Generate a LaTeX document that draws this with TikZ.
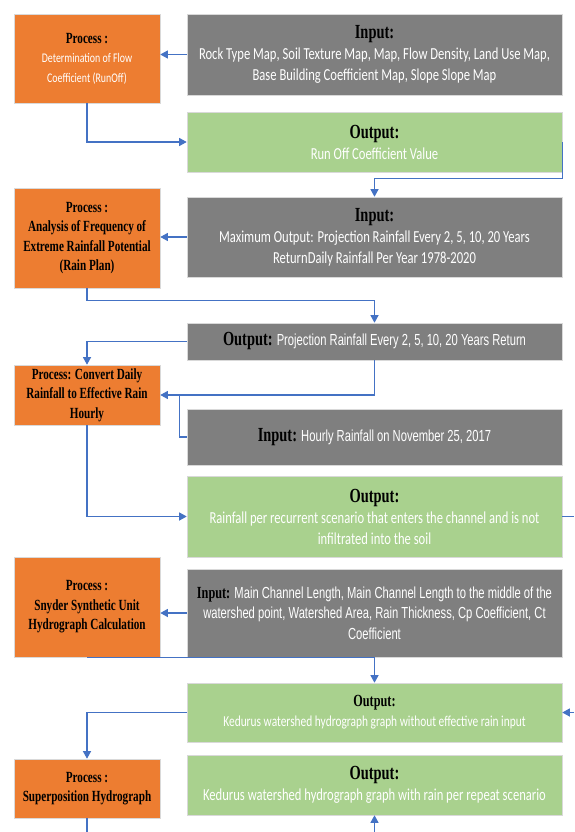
\documentclass[tikz,border=0pt]{standalone}
\usepackage{fontspec}
\setmainfont{Liberation Serif}
\newfontfamily\hdfont[FakeStretch=0.72]{Liberation Serif}
\newfontfamily\bodyfont[FakeStretch=0.75]{Carlito}
\newfontfamily\armfont[FakeStretch=0.70]{Liberation Sans}
\usetikzlibrary{arrows.meta}

\definecolor{procorange}{HTML}{ED7D31}
\definecolor{ingrey}{HTML}{7F7F7F}
\definecolor{outgreen}{HTML}{A9D18E}
\definecolor{linkblue}{HTML}{4472C4}

% headings inside the boxes
\newcommand{\bighd}[1]{{\hdfont\bfseries\fontsize{20}{24}\selectfont\color{black}#1}}
\newcommand{\midhd}[1]{{\hdfont\bfseries\fontsize{17}{20}\selectfont\color{black}#1}}
\newcommand{\procsub}[1]{{\bodyfont\mdseries\fontsize{13.2}{17}\selectfont\color{white}#1}}

\tikzset{
  flowbox/.style={draw=black!15,line width=0.6pt,align=center,inner sep=2pt},
  procbox/.style={flowbox,fill=procorange,minimum width=146pt,
    font=\hdfont\bfseries\fontsize{15.5}{19.5}\selectfont},
  inbox/.style={flowbox,fill=ingrey,minimum width=375pt,text=white,
    font=\bodyfont\fontsize{16.8}{21}\selectfont},
  outbox/.style={flowbox,fill=outgreen,minimum width=375pt,text=white,
    font=\bodyfont\fontsize{16.8}{21}\selectfont},
  link/.style={draw=linkblue,line width=1.2pt},
  tipped/.style={-{Triangle[length=7.5pt,width=8pt]}}
}

\begin{document}
\begin{tikzpicture}[x=1pt,y=-1pt]
  \useasboundingbox (0,0) rectangle (574,832);

  % left column: processes
  \draw (87,58.5) node [procbox,minimum height=89pt] (proc1)
    {Process :\\ \procsub{Determination of Flow}\\ \procsub{Coefficient (RunOff)}};
  \draw (87,238) node [procbox,minimum height=100pt] (proc2)
    {Process :\\ Analysis of Frequency of\\ Extreme Rainfall Potential\\ (Rain Plan)};
  \draw (87,395) node [procbox,minimum height=60pt] (proc3)
    {Process: Convert Daily\\ Rainfall to Effective Rain\\ Hourly};
  \draw (87,607) node [procbox,minimum height=100pt] (proc4)
    {Process :\\ Snyder Synthetic Unit\\ Hydrograph Calculation};
  \draw (87,788.5) node [procbox,minimum height=59pt] (proc5)
    {Process :\\ Superposition Hydrograph};

  % right column: inputs and outputs
  \draw (374.5,54.5) node [inbox,minimum height=81pt] (in1)
    {\bighd{Input:}\\ Rock Type Map, Soil Texture Map, Map, Flow Density, Land Use Map,\\
     Base Building Coefficient Map, Slope Slope Map};
  \draw (374.5,142) node [outbox,minimum height=60pt] (out1)
    {\bighd{Output:}\\ Run Off Coefficient Value};
  \draw (374.5,237) node [inbox,minimum height=80pt] (in2)
    {\bighd{Input:}\\ Maximum Output: Projection Rainfall Every 2, 5, 10, 20 Years\\
     ReturnDaily Rainfall Per Year 1978-2020};
  \draw (374.5,341.5) node [inbox,minimum height=37pt,font=\armfont\fontsize{16}{19}\selectfont] (out2)
    {\bighd{Output:} Projection Rainfall Every 2, 5, 10, 20 Years Return};
  \draw (374.5,437) node [inbox,minimum height=56pt,font=\armfont\fontsize{16}{19}\selectfont] (in3)
    {\bighd{Input:} Hourly Rainfall on November 25, 2017};
  \draw (374.5,516.5) node [outbox,minimum height=81pt] (out3)
    {\bighd{Output:}\\ Rainfall per recurrent scenario that enters the channel and is not\\
     infiltrated into the soil};
  \draw (374.5,613) node [inbox,minimum height=88pt,font=\armfont\fontsize{16}{20.5}\selectfont] (in4)
    {\midhd{Input:} Main Channel Length, Main Channel Length to the middle of the\\
     watershed point, Watershed Area, Rain Thickness, Cp Coefficient, Ct\\ Coefficient};
  \draw (374.5,712.5) node [outbox,minimum height=59pt,font=\bodyfont\fontsize{15.2}{20}\selectfont] (out4)
    {\midhd{Output:}\\ Kedurus watershed hydrograph graph without effective rain input};
  \draw (374.5,785) node [outbox,minimum height=60pt] (out5)
    {\bighd{Output:}\\ Kedurus watershed hydrograph graph with rain per repeat scenario};

  % free ends at the border
  \coordinate (rightA) at (574,516.5);
  \coordinate (rightB) at (574,712.5);
  \coordinate (bottomA) at (87,832);
  \coordinate (bottomB) at (374.5,832);

  \scope[link]
    \draw[tipped] (in1.west) -- (in1.west -| proc1.east);
    \draw[tipped] (proc1.south) |- (out1.west);
    \draw[tipped] (out1.east) -- ([yshift=-6pt]out1.south east) -| (in2.north);
    \draw[tipped] (in2.west) -- (in2.west -| proc2.east);
    \draw[tipped] (proc2.south) -- ++(0,12) -| (out2.north);
    \draw[tipped] (out2.west) -| (proc3.north);
    \draw[tipped] (out2.south) |- (proc3.east);
    \draw (in3.west) -- ++(-7,0) coordinate (join) -- (join |- proc3.east);
    \draw[tipped] (proc3.south) |- (out3.west);
    \draw (out3.east) -- (rightA);
    \draw[tipped] (in4.west) -- (in4.west -| proc4.east);
    \draw[tipped] (proc4.south) -| (out4.north);
    \draw[tipped] (rightB) -- (out4.east);
    \draw[tipped] (out4.west) -| (proc5.north);
    \draw (proc5.south) -- (bottomA);
    \draw[tipped] (bottomB) -- (out5.south);
  \endscope
\end{tikzpicture}
\end{document}
